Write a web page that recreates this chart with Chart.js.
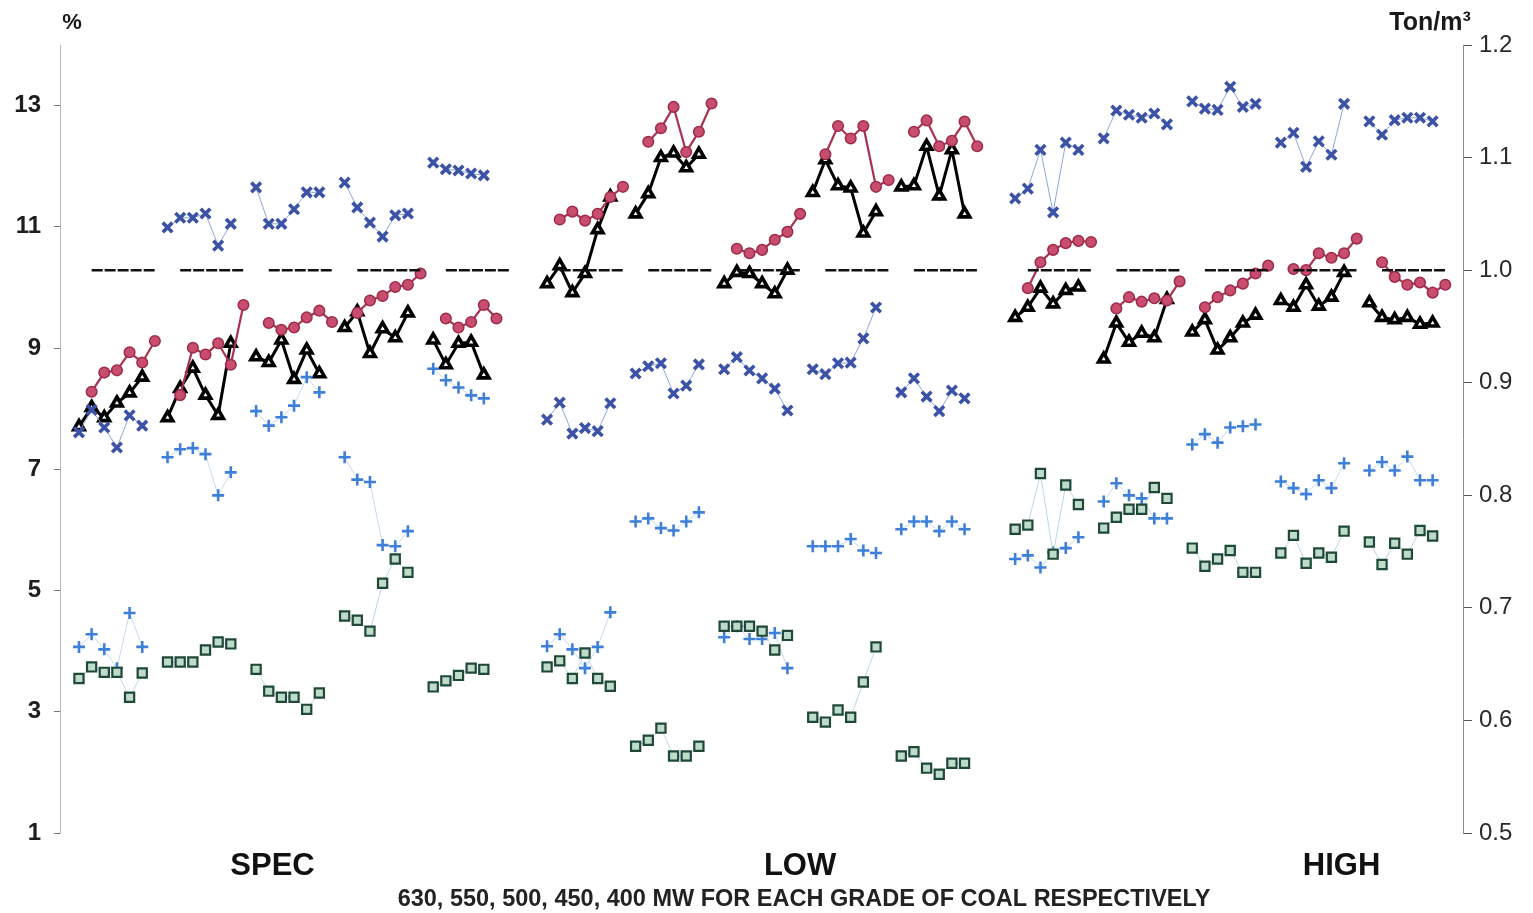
<!DOCTYPE html>
<html>
<head>
<meta charset="utf-8">
<title>Coal grade test results</title>
<script src="https://cdn.jsdelivr.net/npm/chart.js@4.4.1/dist/chart.umd.min.js"></script>
<style>
  html, body { margin: 0; padding: 0; background: #ffffff; }
  #wrap { width: 1533px; height: 913px; position: relative; }
</style>
</head>
<body>
<div id="wrap"><canvas id="chart" width="1533" height="913"></canvas></div>
<script>
// Coal grades on the x axis; each grade holds five load blocks (630, 550, 500, 450, 400 MW).
const gradeLabels = ['SPEC', 'LOW', 'HIGH'];
const loadLevels = [630, 550, 500, 450, 400];
const gradeLabelSlot = [15.3, 57.0, 99.8];
const pctTicks = [1, 3, 5, 7, 9, 11, 13];
const densityTicks = [0.5, 0.6, 0.7, 0.8, 0.9, 1.0, 1.1, 1.2];
const referenceDensity = 1.0;

// One row per load block: SPEC 630..400, LOW 630..400, HIGH 630..400.
const crossPct = [
  [7.61, 7.98, 7.69, 7.36, 7.89, 7.72],
  [10.99, 11.15, 11.15, 11.22, 10.69, 11.05],
  [11.65, 11.05, 11.05, 11.29, 11.57, 11.57],
  [11.73, 11.32, 11.07, 10.84, 11.19, 11.22],
  [12.06, 11.95, 11.93, 11.88, 11.85, null],
  [7.82, 8.10, 7.59, 7.68, 7.63, 8.09],
  [8.58, 8.70, 8.75, 8.25, 8.38, 8.73],
  [8.65, 8.85, 8.63, 8.50, 8.33, 7.97],
  [8.65, 8.57, 8.75, 8.76, 9.16, 9.67],
  [8.27, 8.50, 8.20, 7.96, 8.30, 8.17],
  [11.47, 11.63, 12.27, 11.24, 12.39, 12.27],
  [12.46, 12.92, 12.85, 12.80, 12.87, 12.69],
  [13.07, 12.95, 12.93, 13.31, 12.98, 13.03],
  [12.39, 12.55, 11.99, 12.41, 12.19, 13.03],
  [12.74, 12.52, 12.76, 12.80, 12.80, 12.74]
];

const plusPct = [
  [4.07, 4.28, 4.03, 3.72, 4.63, 4.07],
  [7.20, 7.33, 7.35, 7.25, 6.57, 6.95],
  [7.96, 7.72, 7.86, 8.05, 8.52, 8.27],
  [7.20, 6.83, 6.79, 5.75, 5.73, 5.98],
  [8.66, 8.47, 8.35, 8.22, 8.17, null],
  [4.08, 4.28, 4.03, 3.72, 4.07, 4.64],
  [6.14, 6.19, 6.03, 5.99, 6.14, 6.29],
  [4.23, 4.41, 4.20, 4.20, 4.30, 3.72],
  [5.73, 5.73, 5.73, 5.85, 5.66, 5.62],
  [6.01, 6.14, 6.14, 5.98, 6.14, 6.01],
  [5.52, 5.58, 5.38, 5.63, 5.70, 5.88],
  [6.47, 6.77, 6.57, 6.52, 6.19, 6.19],
  [7.41, 7.58, 7.44, 7.69, 7.71, 7.74],
  [6.80, 6.69, 6.59, 6.82, 6.69, 7.10],
  [6.98, 7.12, 6.98, 7.21, 6.82, 6.82]
];

const squarePct = [
  [3.55, 3.74, 3.65, 3.65, 3.24, 3.64],
  [3.82, 3.82, 3.82, 4.02, 4.15, 4.12],
  [3.70, 3.34, 3.24, 3.24, 3.04, 3.31],
  [4.58, 4.51, 4.33, 5.12, 5.52, 5.30],
  [3.41, 3.51, 3.60, 3.72, 3.70, null],
  [3.74, 3.84, 3.55, 3.97, 3.55, 3.42],
  [2.43, 2.53, 2.73, 2.27, 2.27, 2.43],
  [4.41, 4.41, 4.41, 4.33, 4.02, 4.26],
  [2.91, 2.83, 3.03, 2.91, 3.49, 4.07],
  [2.27, 2.34, 2.07, 1.97, 2.15, 2.15],
  [6.01, 6.08, 6.93, 5.60, 6.74, 6.42],
  [6.03, 6.21, 6.34, 6.34, 6.70, 6.52],
  [5.70, 5.40, 5.52, 5.66, 5.30, 5.30],
  [5.62, 5.91, 5.45, 5.62, 5.55, 5.98],
  [5.80, 5.43, 5.78, 5.60, 5.99, 5.90]
];

const circleDensity = [
  [0.892, 0.909, 0.911, 0.927, 0.918, 0.937],
  [0.889, 0.931, 0.925, 0.935, 0.916, 0.969],
  [0.953, 0.947, 0.949, 0.958, 0.964, 0.954],
  [0.962, 0.973, 0.977, 0.985, 0.987, 0.997],
  [0.957, 0.949, 0.954, 0.969, 0.957, null],
  [1.045, 1.052, 1.044, 1.050, 1.065, 1.074],
  [1.114, 1.126, 1.145, 1.105, 1.123, 1.148],
  [1.019, 1.015, 1.018, 1.027, 1.034, 1.050],
  [1.103, 1.128, 1.117, 1.128, 1.074, 1.080],
  [1.123, 1.133, 1.110, 1.115, 1.132, 1.110],
  [0.984, 1.007, 1.018, 1.024, 1.026, 1.025],
  [0.966, 0.976, 0.972, 0.975, 0.973, 0.990],
  [0.967, 0.976, 0.982, 0.988, 0.997, 1.004],
  [1.001, 1.000, 1.015, 1.011, 1.015, 1.028],
  [1.007, 0.994, 0.987, 0.989, 0.980, 0.987]
];

const triangleDensity = [
  [0.861, 0.878, 0.869, 0.882, 0.891, 0.905],
  [0.869, 0.895, 0.913, 0.889, 0.871, 0.935],
  [0.923, 0.918, 0.938, 0.903, 0.929, 0.908],
  [0.949, 0.963, 0.926, 0.948, 0.940, 0.962],
  [0.938, 0.916, 0.935, 0.936, 0.907, null],
  [0.988, 1.004, 0.980, 0.997, 1.036, 1.065],
  [1.050, 1.068, 1.100, 1.104, 1.091, 1.103],
  [0.988, 0.998, 0.997, 0.988, 0.979, 1.000],
  [1.069, 1.098, 1.075, 1.073, 1.033, 1.052],
  [1.074, 1.075, 1.110, 1.066, 1.107, 1.050],
  [0.958, 0.967, 0.984, 0.970, 0.982, 0.985],
  [0.921, 0.953, 0.936, 0.944, 0.940, 0.974],
  [0.945, 0.956, 0.929, 0.940, 0.953, 0.960],
  [0.973, 0.967, 0.987, 0.968, 0.976, 0.998],
  [0.971, 0.958, 0.956, 0.958, 0.952, 0.953]
];

// Slot layout along the x axis: 7 slots per load block, 37 slots per grade.
const BLOCK_STRIDE = 7;
const GRADE_STRIDE = 37;

function slotOf(row, i, shift) {
  const grade = Math.floor(row / loadLevels.length);
  const block = row % loadLevels.length;
  return grade * GRADE_STRIDE + block * BLOCK_STRIDE + i + shift;
}

function toPoints(rows, shift) {
  const pts = [];
  rows.forEach((vals, r) => {
    vals.forEach((v, i) => pts.push({ x: slotOf(r, i, shift), y: v }));
    // a null point after each block keeps the blocks unconnected
    pts.push({ x: slotOf(r, vals.length, shift) - 0.5, y: null });
  });
  return pts;
}

function referencePoints() {
  const pts = [];
  for (let r = 0; r < gradeLabels.length * loadLevels.length; r++) {
    pts.push({ x: slotOf(r, 1, 0), y: referenceDensity });
    pts.push({ x: slotOf(r, 6, 0), y: referenceDensity });
    pts.push({ x: slotOf(r, 6, 0) + 0.5, y: null });
  }
  return pts;
}

const FONT = "'Liberation Sans', Arial, Helvetica, sans-serif";

const textPlugin = {
  id: 'axisTexts',
  afterDraw(chart) {
    const ctx = chart.ctx;
    ctx.save();
    ctx.fillStyle = '#1a1a1a';
    ctx.textBaseline = 'middle';
    ctx.textAlign = 'center';
    ctx.font = 'bold 22px ' + FONT;
    ctx.fillText('%', 72, 23);
    ctx.font = 'bold 25px ' + FONT;
    ctx.fillText('Ton/m³', 1430, 23);
    ctx.font = 'bold 23.5px ' + FONT;
    ctx.fillStyle = '#222';
    ctx.fillText('630, 550, 500, 450, 400 MW FOR EACH GRADE OF COAL RESPECTIVELY', 804, 900);
    ctx.restore();
  }
};

const thinLine = { borderWidth: 1, tension: 0, spanGaps: false };

new Chart(document.getElementById('chart'), {
  type: 'line',
  data: {
    datasets: [
      Object.assign({
        label: 'squares', yAxisID: 'yPct', data: toPoints(squarePct, 0),
        borderColor: '#bcd7e8', pointStyle: 'rect', pointRadius: 6.5,
        pointBackgroundColor: '#bfdcca', pointBorderColor: '#1f4838', pointBorderWidth: 2.2
      }, thinLine),
      Object.assign({
        label: 'plus', yAxisID: 'yPct', data: toPoints(plusPct, 0),
        borderColor: '#c6daf1', pointStyle: 'cross', pointRadius: 6,
        pointBorderColor: '#3d7fd9', pointBorderWidth: 2.6
      }, thinLine),
      Object.assign({
        label: 'cross', yAxisID: 'yPct', data: toPoints(crossPct, 0),
        borderColor: '#8ea5dc', pointStyle: 'crossRot', pointRadius: 6.8,
        pointBorderColor: '#3b52a6', pointBorderWidth: 3.6
      }, thinLine),
      {
        label: 'reference', yAxisID: 'yDensity', data: referencePoints(),
        borderColor: '#111', borderWidth: 2.5, borderDash: [11, 2],
        pointRadius: 0, tension: 0, spanGaps: false
      },
      {
        label: 'circles', yAxisID: 'yDensity', data: toPoints(circleDensity, 1),
        borderColor: '#a8324f', borderWidth: 2.2, tension: 0, spanGaps: false,
        pointStyle: 'circle', pointRadius: 5.3,
        pointBackgroundColor: '#c94d6e', pointBorderColor: '#9c2c4a', pointBorderWidth: 1.5
      },
      {
        label: 'triangles', yAxisID: 'yDensity', data: toPoints(triangleDensity, 0),
        borderColor: '#000', borderWidth: 3, tension: 0, spanGaps: false,
        pointStyle: 'triangle', pointRadius: 6,
        pointBackgroundColor: '#ffffff', pointBorderColor: '#000', pointBorderWidth: 3.6
      }
    ]
  },
  options: {
    responsive: false,
    animation: false,
    devicePixelRatio: 1,
    layout: { padding: { top: 45, left: 0, right: 0, bottom: 0 } },
    plugins: { legend: { display: false }, tooltip: { enabled: false }, title: { display: false } },
    scales: {
      x: {
        type: 'linear', position: 'bottom', min: -1.5, max: 109.4,
        grid: { display: false, drawTicks: false },
        border: { display: false },
        afterBuildTicks: s => { s.ticks = gradeLabelSlot.map(v => ({ value: v })); },
        afterFit: s => { s.height = 80; s.paddingLeft = 0; s.paddingRight = 0; },
        ticks: {
          autoSkip: false, maxRotation: 0, padding: 15, color: '#111',
          font: { family: FONT, size: 31, weight: 'bold' },
          callback: (v, i) => gradeLabels[i]
        }
      },
      yPct: {
        type: 'linear', position: 'left', min: 1, max: 14,
        afterBuildTicks: s => { s.ticks = pctTicks.map(v => ({ value: v })); },
        afterFit: s => { s.width = 60; s.paddingTop = 0; s.paddingBottom = 0; },
        grid: { drawOnChartArea: false, drawTicks: true, tickLength: 6, color: '#777' },
        border: { display: true, color: '#b5b5b5', width: 1 },
        ticks: {
          padding: 13, color: '#1e1e1e',
          font: { family: FONT, size: 24, weight: 'bold' },
          callback: v => String(v)
        }
      },
      yDensity: {
        type: 'linear', position: 'right', min: 0.5, max: 1.2,
        afterBuildTicks: s => { s.ticks = densityTicks.map(v => ({ value: v })); },
        afterFit: s => { s.width = 70; s.paddingTop = 0; s.paddingBottom = 0; },
        grid: { drawOnChartArea: false, drawTicks: true, tickLength: 9, color: '#555' },
        border: { display: true, color: '#8a8a8a', width: 1 },
        ticks: {
          padding: 7, color: '#2a2a2a',
          font: { family: FONT, size: 24 },
          callback: v => v.toFixed(1)
        }
      }
    }
  },
  plugins: [textPlugin]
});
</script>
</body>
</html>
